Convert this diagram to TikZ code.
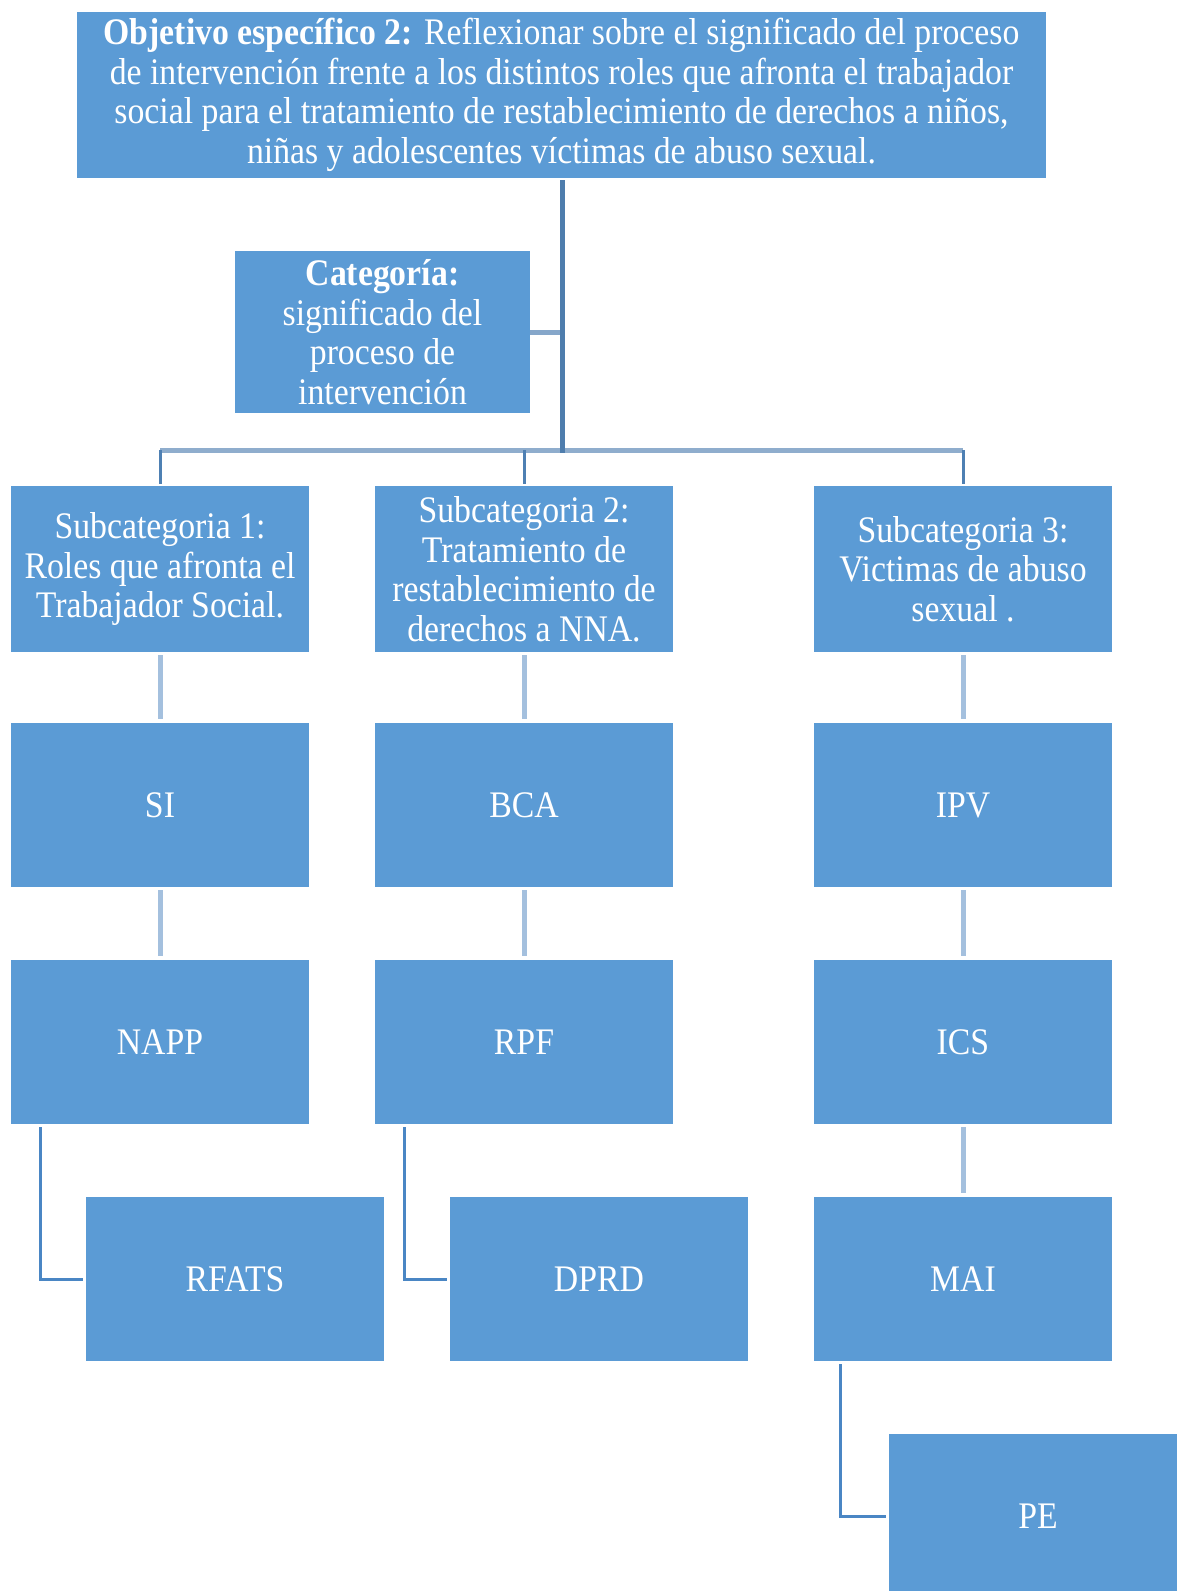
\documentclass[tikz,border=0pt]{standalone}
\usepackage{fontspec}
\setmainfont[FakeStretch=0.9]{Liberation Serif}
\usetikzlibrary{calc}
\definecolor{boxblue}{HTML}{5B9BD5}
\definecolor{trunkc}{HTML}{4E7DAD}
\definecolor{busc}{HTML}{8FADCD}
\definecolor{catc}{HTML}{86A7CA}
\definecolor{dropc}{HTML}{4E80B3}
\definecolor{rowc}{HTML}{A4C0DE}
\definecolor{elbowc}{HTML}{4A86C4}
\begin{document}
\begin{tikzpicture}[x=1pt,y=-1pt,
  box/.style={fill=boxblue,text=white,inner sep=0pt,align=center,
    minimum width=298pt,minimum height=164pt,
    font=\fontsize{37.5}{39.5}\selectfont},
  trunk/.style={draw=trunkc,line width=5pt},
  catline/.style={draw=catc,line width=5pt},
  busline/.style={draw=busc,line width=5pt},
  dropline/.style={draw=dropc,line width=3pt},
  rowline/.style={draw=rowc,line width=5pt},
  elbow/.style={draw=elbowc,line width=3pt}]
\useasboundingbox (0,0) rectangle (1177,1591);
\clip (0,0) rectangle (1177,1591);

% top objective
\node[box,minimum width=969pt,minimum height=166pt] (obj) at (561.5,95)
  {\textbf{Objetivo específico 2:} Reflexionar sobre el significado del proceso\\
   de intervención frente a los distintos roles que afronta el trabajador\\
   social para el tratamiento de restablecimiento de derechos a niños,\\
   niñas y adolescentes víctimas de abuso sexual.};

% category
\node[box,minimum width=295pt,minimum height=162pt] (cat) at (382.5,332)
  {\textbf{Categoría:}\\ significado del\\ proceso de\\ intervención};

% subcategories
\node[box,minimum height=166pt] (sub1) at (160,569)
  {Subcategoria 1:\\ Roles que afronta el\\ Trabajador Social.};
\node[box,minimum height=166pt] (sub2) at (524,569)
  {Subcategoria 2:\\ Tratamiento de\\ restablecimiento de\\ derechos a NNA.};
\node[box,minimum height=166pt] (sub3) at (963,569)
  {Subcategoria 3:\\ Victimas de abuso\\ sexual .};

% row 2
\node[box] (si)  at (160,805) {SI};
\node[box] (bca) at (524,805) {BCA};
\node[box] (ipv) at (963,805) {IPV};

% row 3
\node[box] (napp) at (160,1042) {NAPP};
\node[box] (rpf)  at (524,1042) {RPF};
\node[box] (ics)  at (963,1042) {ICS};

% row 4
\node[box] (rfats) at (235,1279) {RFATS};
\node[box] (dprd)  at (599,1279) {DPRD};
\node[box] (mai)   at (963,1279) {MAI};

% row 5
\node[box] (pe) at (1038,1516) {PE};

% connectors
\coordinate (hub) at (562,450);
\draw[catline] (cat.east) -- (cat.east -| hub);
\draw[busline] (sub1.north |- hub) -- (sub3.north |- hub);
\draw[dropline] (sub1.north |- hub) -- ($(sub1.north)+(0,-2)$);
\draw[dropline] (sub2.north |- hub) -- ($(sub2.north)+(0,-2)$);
\draw[dropline] (sub3.north |- hub) -- ($(sub3.north)+(0,-2)$);
\draw[trunk] ($(obj.south)+(0.5,2)$) -- ($(hub)+(0,3)$);

\draw[rowline] ($(sub1.south)+(0,3)$) -- ($(si.north)+(0,-4)$);
\draw[rowline] ($(sub2.south)+(0,3)$) -- ($(bca.north)+(0,-4)$);
\draw[rowline] ($(sub3.south)+(0,3)$) -- ($(ipv.north)+(0,-4)$);
\draw[rowline] ($(si.south)+(0,3)$) -- ($(napp.north)+(0,-4)$);
\draw[rowline] ($(bca.south)+(0,3)$) -- ($(rpf.north)+(0,-4)$);
\draw[rowline] ($(ipv.south)+(0,3)$) -- ($(ics.north)+(0,-4)$);
\draw[rowline] ($(ics.south)+(0,3)$) -- ($(mai.north)+(0,-4)$);

\draw[elbow] ($(napp.south west)+(30,3)$) |- ($(rfats.west)+(-3,0)$);
\draw[elbow] ($(rpf.south west)+(30,3)$) |- ($(dprd.west)+(-3,0)$);
\draw[elbow] ($(mai.south west)+(27,3)$) |- ($(pe.west)+(-3,0)$);
\end{tikzpicture}
\end{document}
